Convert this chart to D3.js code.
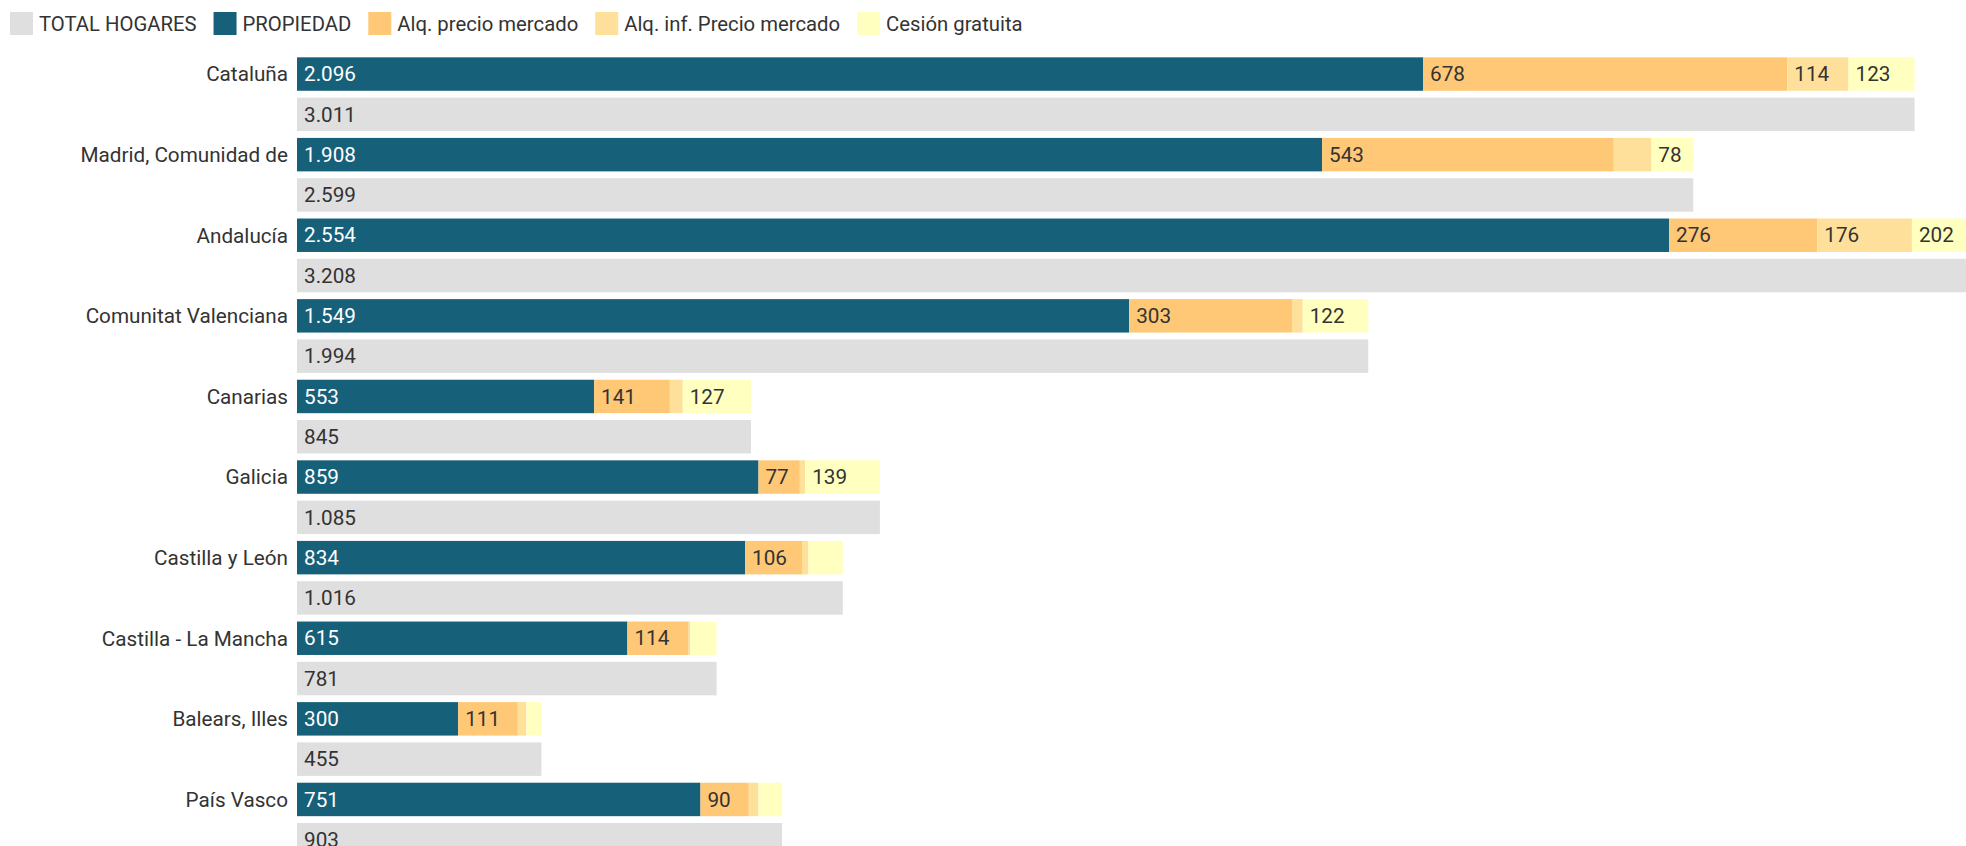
<!DOCTYPE html>
<html>
<head>
<meta charset="utf-8">
<script src="https://cdn.jsdelivr.net/npm/d3@7"></script>
<style>
  html, body { margin: 0; padding: 0; background: #fff; overflow: hidden; }
  svg { display: block; font-family: Roboto, "Noto Sans", sans-serif; }
</style>
</head>
<body>
<svg id="chart" width="1966" height="846"></svg>
<script>
// Hogares por régimen de tenencia de la vivienda (miles), por comunidad autónoma
const regions = ["Cataluña", "Madrid, Comunidad de", "Andalucía", "Comunitat Valenciana",
  "Canarias", "Galicia", "Castilla y León", "Castilla - La Mancha", "Balears, Illes", "País Vasco"];
const totalHogares   = [3011, 2599, 3208, 1994, 845, 1085, 1016, 781, 455, 903];
const propiedad      = [2096, 1908, 2554, 1549, 553, 859, 834, 615, 300, 751];
const alqMercado     = [678, 543, 276, 303, 141, 77, 106, 114, 111, 90];
const alqInfMercado  = [114, 70, 176, 20, 24, 10, 12, 3, 16, 18];
const cesionGratuita = [123, 78, 202, 122, 127, 139, 64, 49, 28, 44];

const seriesNames  = ["TOTAL HOGARES", "PROPIEDAD", "Alq. precio mercado", "Alq. inf. Precio mercado", "Cesión gratuita"];
const seriesColors = ["#dfdfdf", "#17607a", "#fec877", "#fee09a", "#ffffc0"];
const stackKeys = ["PROPIEDAD", "Alq. precio mercado", "Alq. inf. Precio mercado", "Cesión gratuita"];

const rows = regions.map((r, i) => ({
  region: r,
  "TOTAL HOGARES": totalHogares[i],
  "PROPIEDAD": propiedad[i],
  "Alq. precio mercado": alqMercado[i],
  "Alq. inf. Precio mercado": alqInfMercado[i],
  "Cesión gratuita": cesionGratuita[i]
}));

const locale = d3.formatLocale({ decimal: ",", thousands: ".", grouping: [3], currency: ["", "€"] });
const fmt = locale.format(",d");

const svg = d3.select("#chart");
const color = d3.scaleOrdinal().domain(seriesNames).range(seriesColors);

const x0 = 297;
const x = d3.scaleLinear().domain([0, 3011]).range([x0, 1914.6]);

const groupStep = 80.6;
const yTop = 53.9;
const y = d3.scaleBand().domain(regions)
  .range([yTop, yTop + regions.length * groupStep]).padding(0);
const ySub = d3.scaleBand().domain(["stack", "total"])
  .range([0, groupStep]).paddingInner(0.17).paddingOuter(0.085);

const fontSize = 20.7;
const legendFontSize = 20.3;
const minLabelWidth = 40;

// Legend
const legend = svg.append("g").attr("class", "legend");
let lx = 10;
seriesNames.forEach(name => {
  const g = legend.append("g").attr("transform", `translate(${lx},12)`);
  g.append("rect").attr("width", 23).attr("height", 23).attr("fill", color(name));
  const t = g.append("text").attr("x", 29).attr("y", 11.5).attr("dy", "0.35em")
    .attr("font-size", legendFontSize).attr("fill", "#333").text(name);
  lx += 29 + t.node().getComputedTextLength() + 17;
});

// Stacked bars
const stack = d3.stack().keys(stackKeys)(rows);
const plot = svg.append("g");

stack.forEach(layer => {
  const key = layer.key;
  const g = plot.append("g");
  layer.forEach(d => {
    const yb = y(d.data.region) + ySub("stack");
    const w = x(d[1]) - x(d[0]);
    g.append("rect")
      .attr("x", x(d[0])).attr("y", yb)
      .attr("width", w).attr("height", ySub.bandwidth())
      .attr("fill", color(key));
    if (w >= minLabelWidth) {
      g.append("text")
        .attr("x", x(d[0]) + 7).attr("y", yb + ySub.bandwidth() / 2).attr("dy", "0.35em")
        .attr("font-size", fontSize)
        .attr("fill", key === "PROPIEDAD" ? "#fff" : "#333")
        .text(fmt(d[1] - d[0]));
    }
  });
});

// Total bars
rows.forEach(d => {
  const yb = y(d.region) + ySub("total");
  plot.append("rect")
    .attr("x", x(0)).attr("y", yb)
    .attr("width", x(d["TOTAL HOGARES"]) - x(0)).attr("height", ySub.bandwidth())
    .attr("fill", color("TOTAL HOGARES"));
  plot.append("text")
    .attr("x", x(0) + 7).attr("y", yb + ySub.bandwidth() / 2).attr("dy", "0.35em")
    .attr("font-size", fontSize).attr("fill", "#333")
    .text(fmt(d["TOTAL HOGARES"]));
});

// Region labels
const axisG = svg.append("g").attr("transform", `translate(${x0 - 9},0)`);
axisG.call(d3.axisLeft(y).tickSize(0).tickPadding(0));
axisG.select(".domain").remove();
axisG.selectAll(".tick").attr("transform", d => `translate(0,${y(d) + ySub("stack") + ySub.bandwidth() / 2})`);
axisG.selectAll(".tick text")
  .attr("font-size", fontSize).attr("font-family", "Roboto, 'Noto Sans', sans-serif")
  .attr("fill", "#333").attr("dy", "0.35em");
</script>
</body>
</html>
